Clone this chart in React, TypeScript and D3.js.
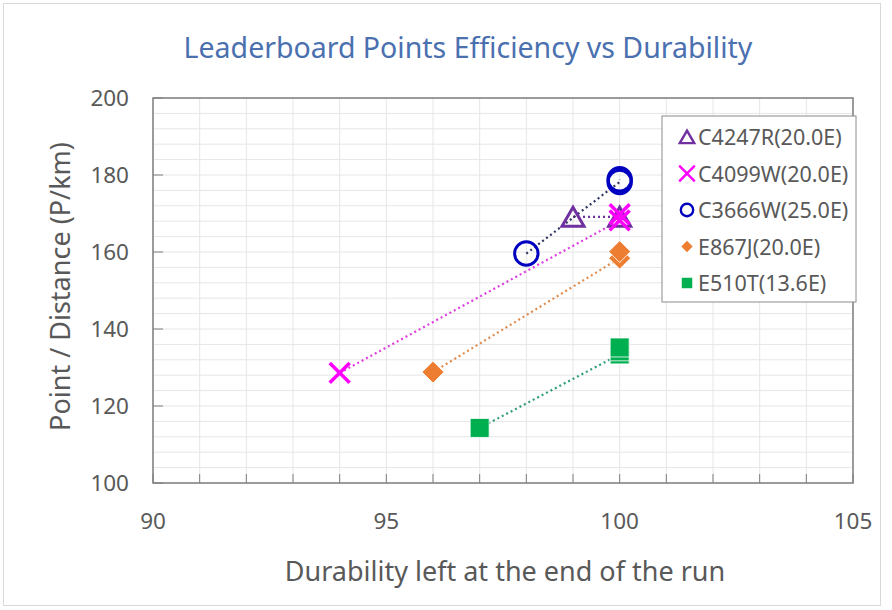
import * as d3 from "d3";

// chart data
const seriesNames = ["C4247R(20.0E)", "C4099W(20.0E)", "C3666W(25.0E)", "E867J(20.0E)", "E510T(13.6E)"];
const c4247r = [
  { x: 99, y: 169.1 },
  { x: 100, y: 169.1 },
];
const c4099w = [
  { x: 94, y: 128.6 },
  { x: 100, y: 168.2 },
  { x: 100, y: 169.8 },
];
const c3666w = [
  { x: 98, y: 159.6 },
  { x: 100, y: 178.2 },
  { x: 100, y: 178.9 },
];
const e867j = [
  { x: 96, y: 128.8 },
  { x: 100, y: 158.4 },
  { x: 100, y: 160.1 },
];
const e510t = [
  { x: 97, y: 114.3 },
  { x: 100, y: 133.4 },
  { x: 100, y: 134.2 },
  { x: 100, y: 135.2 },
];
const xTicks = [90, 95, 100, 105];
const yTicks = [100, 120, 140, 160, 180, 200];

const W = 892;
const H = 610;
const margin = { top: 98, right: 39, bottom: 127, left: 153 };
const font = "'Noto Sans', 'Open Sans', sans-serif";
const textColor = "#595959";

type Pt = { x: number; y: number };
type Series = {
  name: string;
  data: Pt[];
  kind: "triangle" | "times" | "circle" | "diamond" | "square";
  color: string;
  lineColor: string;
};

const series: Series[] = [
  { name: seriesNames[0], data: c4247r, kind: "triangle", color: "#7030A0", lineColor: "#7030A0" },
  { name: seriesNames[1], data: c4099w, kind: "times", color: "#FF00FF", lineColor: "#E03CE0" },
  { name: seriesNames[2], data: c3666w, kind: "circle", color: "#0000C0", lineColor: "#2E3560" },
  { name: seriesNames[3], data: e867j, kind: "diamond", color: "#ED7D31", lineColor: "#E08A4A" },
  { name: seriesNames[4], data: e510t, kind: "square", color: "#00B050", lineColor: "#2F9C78" },
];

const symbolFor = (kind: Series["kind"], small: boolean) => {
  switch (kind) {
    case "triangle":
      return d3.symbol(d3.symbolTriangle, small ? 90 : 210)();
    case "times":
      return d3.symbol(d3.symbolTimes, small ? 160 : 260)();
    case "circle":
      return d3.symbol(d3.symbolCircle, small ? 120 : 430)();
    case "diamond":
      return d3.symbol(d3.symbolSquare, small ? 64 : 240)();
    case "square":
      return d3.symbol(d3.symbolSquare, small ? 110 : 361)();
  }
};

const Marker = ({ s, x, y, small }: { s: Series; x: number; y: number; small: boolean }) => {
  const d = symbolFor(s.kind, small) ?? "";
  const rot = s.kind === "diamond" ? " rotate(45)" : "";
  const ty = s.kind === "triangle" ? (small ? 2 : 3) : 0;
  if (s.kind === "triangle" || s.kind === "circle") {
    return (
      <path
        d={d}
        transform={`translate(${x},${y + ty})`}
        fill="none"
        stroke={s.color}
        strokeWidth={small ? 2.4 : 3}
      />
    );
  }
  if (s.kind === "times") {
    return (
      <path d={d} transform={`translate(${x},${y})`} fill="none" stroke={s.color} strokeWidth={small ? 2.4 : 3.5} />
    );
  }
  return (
    <path
      d={d}
      transform={`translate(${x},${y})${rot}`}
      fill={s.color}
      stroke={small ? "none" : "#ffffff"}
      strokeWidth={0.8}
    />
  );
};

export default function App() {
  const innerW = W - margin.left - margin.right;
  const innerH = H - margin.top - margin.bottom;

  const x = d3.scaleLinear().domain([90, 105]).range([margin.left, margin.left + innerW]);
  const y = d3.scaleLinear().domain([100, 200]).range([margin.top + innerH, margin.top]);

  const xMinor = d3.range(90, 106, 1);
  const yMinor = d3.range(100, 201, 4);
  const yMajorTicks = d3.range(100, 201, 20);

  const line = d3
    .line<Pt>()
    .x((d) => x(d.x))
    .y((d) => y(d.y));

  const legend = { x: 662, y: 116, w: 194, h: 186, row: 36.5 };

  return (
    <svg
      width={W}
      height={H}
      style={{ position: "absolute", left: 0, top: 0, background: "#fff" }}
      fontFamily={font}
    >
      <rect x={3.5} y={3.5} width={877} height={602} fill="#fff" stroke="#d9d9d9" strokeWidth={1} />

      <text x={468} y={58} textAnchor="middle" fontSize={28.5} fill="#4A70B0">
        Leaderboard Points Efficiency vs Durability
      </text>

      {/* grid */}
      <g stroke="#e6e6e6" strokeWidth={1}>
        {xMinor.map((v) => (
          <line key={`gx${v}`} x1={x(v)} x2={x(v)} y1={margin.top} y2={margin.top + innerH} />
        ))}
        {yMinor.map((v) => (
          <line key={`gy${v}`} x1={margin.left} x2={margin.left + innerW} y1={y(v)} y2={y(v)} />
        ))}
      </g>

      {/* tick marks, pointing inward */}
      <g stroke="#7f7f7f" strokeWidth={1}>
        {xMinor.map((v) => (
          <line key={`tx${v}`} x1={x(v)} x2={x(v)} y1={margin.top + innerH} y2={margin.top + innerH - 9} />
        ))}
        {yMajorTicks.map((v) => (
          <line key={`ty${v}`} x1={margin.left} x2={margin.left + 10} y1={y(v)} y2={y(v)} />
        ))}
      </g>

      <rect
        x={margin.left}
        y={margin.top}
        width={innerW}
        height={innerH}
        fill="none"
        stroke="#7f7f7f"
        strokeWidth={1.5}
      />

      {/* tick labels */}
      <g fontSize={22.5} fill={textColor}>
        {xTicks.map((v) => (
          <text key={`lx${v}`} x={x(v)} y={529} textAnchor="middle">
            {v}
          </text>
        ))}
        {yTicks.map((v) => (
          <text key={`ly${v}`} x={129} y={y(v) + 8} textAnchor="end">
            {v}
          </text>
        ))}
      </g>

      <text x={505} y={581} textAnchor="middle" fontSize={27} fill={textColor}>
        Durability left at the end of the run
      </text>
      <text
        transform={`translate(70,${margin.top + innerH / 2 - 4}) rotate(-90)`}
        textAnchor="middle"
        fontSize={27}
        fill={textColor}
      >
        Point / Distance (P/km)
      </text>

      {/* series lines */}
      {series.map((s) => (
        <path
          key={`l${s.name}`}
          d={line(s.data) ?? ""}
          fill="none"
          stroke={s.lineColor}
          strokeWidth={2.2}
          strokeDasharray="2 3"
        />
      ))}

      {/* markers */}
      {series.map((s) =>
        s.data.map((p, i) => <Marker key={`m${s.name}${i}`} s={s} x={x(p.x)} y={y(p.y)} small={false} />)
      )}

      {/* legend */}
      <rect
        x={legend.x}
        y={legend.y}
        width={legend.w}
        height={legend.h}
        fill="#fff"
        stroke="#8c8c8c"
        strokeWidth={1}
      />
      {series.map((s, i) => {
        const cy = legend.y + 21 + i * legend.row;
        return (
          <g key={`lg${s.name}`}>
            <Marker s={s} x={687} y={cy} small={true} />
            <text x={698} y={cy + 8} fontSize={21.5} fill={textColor}>
              {s.name}
            </text>
          </g>
        );
      })}
    </svg>
  );
}
